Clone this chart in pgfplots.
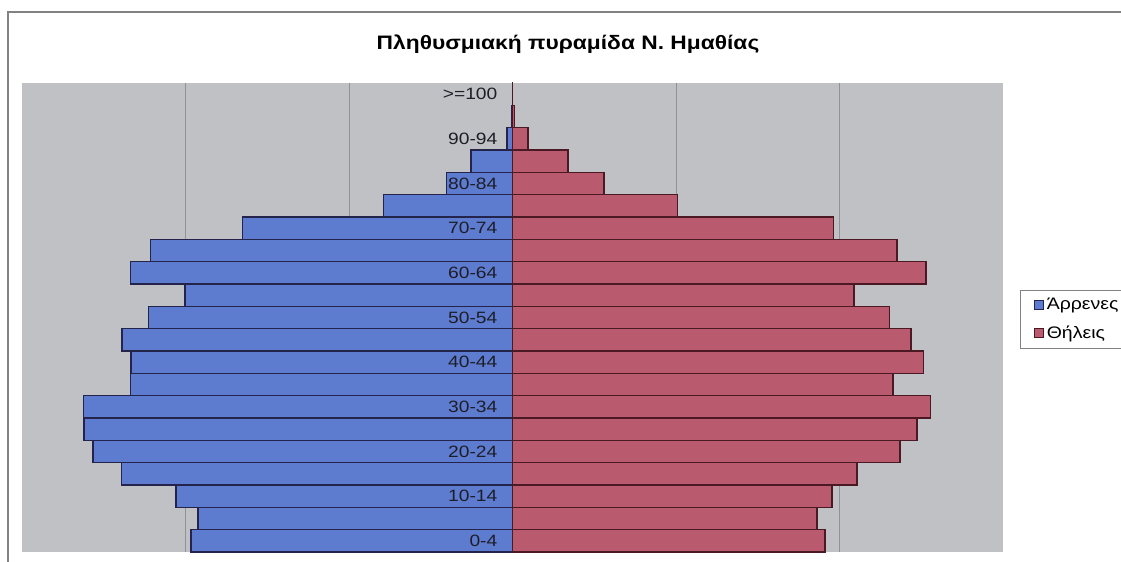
\documentclass[border=0pt]{standalone}
\usepackage{fontspec}
\setmainfont{Liberation Sans}[FakeStretch=1.17]
\usepackage{pgfplots}
\pgfplotsset{compat=1.18}
\definecolor{bggray}{RGB}{192,193,197}
\definecolor{gridgray}{RGB}{145,145,150}
\definecolor{maleblue}{RGB}{93,123,207}
\definecolor{maledark}{RGB}{35,35,75}
\definecolor{femred}{RGB}{185,90,110}
\definecolor{femdark}{RGB}{75,25,35}
\definecolor{axisdark}{RGB}{40,35,50}
\definecolor{bordergray}{RGB}{130,130,130}
\begin{document}
\begin{tikzpicture}
\path[use as bounding box] (0,0) rectangle (840.75pt,420.75pt);
\fill[white] (0,0) rectangle (840.75pt,420.75pt);
\draw[bordergray, line width=1pt] (6pt,-5pt) -- (6pt,411.75pt) -- (850pt,411.75pt);
\begin{axis}[
  axis on top,
  at={(16.5pt,6.75pt)}, anchor=south west,
  scale only axis, width=735.75pt, height=351.75pt,
  xmin=-6000, xmax=6000, ymin=-0.5, ymax=20.5,
  axis line style={draw=none},
  axis background/.style={fill=bggray},
  major tick length=0pt,
  xtick=\empty,
  ytick={0,2,...,20},
  yticklabels={0-4,10-14,20-24,30-34,40-44,50-54,60-64,70-74,80-84,90-94,>=100},
  yticklabel style={font=\fontsize{12.3}{14}\selectfont, text={rgb,255:red,30;green,30;blue,40}, anchor=east, xshift=360pt},
  legend style={at={(1.0173,0.5585)}, anchor=north west, draw=bordergray, fill=white,
    font=\fontsize{12.5}{15}\selectfont, row sep=6.3pt, inner xsep=10pt, inner ysep=4pt,
    /tikz/every odd column/.append style={column sep=0.5pt}},
  legend cell align=left,
  legend image code/.code={\draw[#1, line width=0.6pt] (0pt,-3.4pt) rectangle (6.8pt,3.4pt);},
]
\draw[gridgray, line width=0.6pt] (axis cs:-4000,-0.5) -- (axis cs:-4000,20.5)
  (axis cs:-2000,-0.5) -- (axis cs:-2000,20.5)
  (axis cs:2000,-0.5) -- (axis cs:2000,20.5)
  (axis cs:4000,-0.5) -- (axis cs:4000,20.5);
\draw[axisdark, line width=1.2pt] (axis cs:0,-0.5) -- (axis cs:0,20.5);
\addplot[xbar, bar width=1, bar shift=0pt, fill=maleblue, draw=maledark, line width=1.1pt] table[x=v, y=k] {
k v
0 -3930
1 -3845
2 -4115
3 -4785
4 -5130
5 -5240
6 -5250
7 -4675
8 -4665
9 -4775
10 -4455
11 -4005
12 -4675
13 -4430
14 -3305
15 -1580
16 -810
17 -505
18 -70
19 -10
20 -2
};
\addlegendentry{Άρρενες}
\addplot[xbar, bar width=1, bar shift=0pt, fill=femred, draw=femdark, line width=1.1pt] table[x=v, y=k] {
k v
0 3825
1 3725
2 3910
3 4215
4 4740
5 4950
6 5110
7 4655
8 5025
9 4875
10 4610
11 4180
12 5060
13 4705
14 3925
15 2015
16 1120
17 680
18 190
19 25
20 3
};
\addlegendentry{Θήλεις}
\end{axis}
\node[font=\bfseries\fontsize{14.6}{17}\selectfont] at (426pt,387.75pt) {Πληθυσμιακή πυραμίδα Ν. Ημαθίας};
\end{tikzpicture}
\end{document}
